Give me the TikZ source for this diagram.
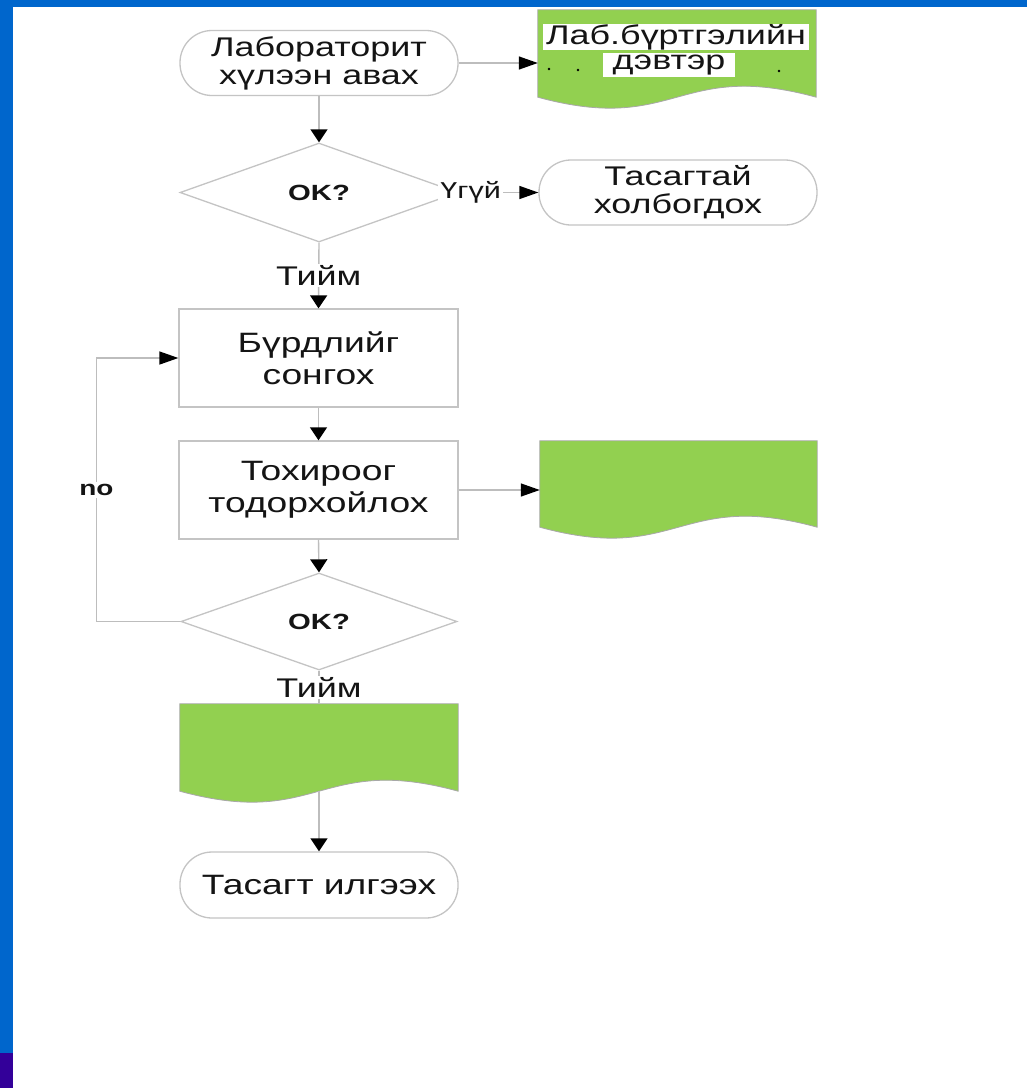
\documentclass[tikz,border=0pt]{standalone}
\usepackage{fontspec}
\setmainfont[FakeStretch=1.33]{Liberation Sans}
\usetikzlibrary{arrows.meta,shapes.geometric,calc}
\definecolor{bordblue}{HTML}{0066CC}
\definecolor{bordpurple}{HTML}{330099}
\definecolor{docgreen}{HTML}{92D050}
\definecolor{edgegray}{HTML}{C4C4C4}
\definecolor{linegray}{HTML}{BDBDBD}
\definecolor{docedge}{HTML}{A8A8A8}
\definecolor{txt}{HTML}{141414}

\newcommand\docshape[1]{%
  \filldraw[fill=docgreen, draw=docedge, line width=0.8pt]
    (#1.north west) -- (#1.north east) -- (#1.south east)
    .. controls ($(#1.south)+(0,-38)$) and ($(#1.south)+(0,38)$) .. (#1.south west) -- cycle;}

\begin{document}
\begin{tikzpicture}[x=1pt,y=-1pt,
  every node/.style={text=txt},
  term/.style={draw=edgegray, line width=1.3pt, rectangle, rounded corners=32pt,
    minimum width=278pt, minimum height=65pt, inner sep=0pt, align=center,
    font=\fontsize{27}{28}\selectfont},
  procbox/.style={draw=edgegray, line width=1.3pt, rectangle,
    minimum width=279pt, minimum height=98pt, inner sep=0pt, align=center,
    font=\fontsize{28}{32}\selectfont},
  decis/.style={draw=edgegray, line width=1.3pt, diamond, aspect=2.8,
    minimum width=278pt, minimum height=99pt, inner sep=0pt,
    font=\fontsize{22}{22}\selectfont\bfseries},
  docnode/.style={draw=none, minimum width=278pt, minimum height=87pt, inner sep=0pt},
  conn/.style={draw=linegray, line width=1.4pt},
  varrow/.style={conn, -{Triangle[length=13pt, width=17pt, color=black]}},
  harrow/.style={conn, -{Triangle[length=19pt, width=13pt, color=black]}},
  lbl/.style={fill=white, inner sep=1.5pt, font=\fontsize{27}{27}\selectfont},
  smalllbl/.style={fill=white, inner sep=2pt, font=\fontsize{23}{23}\selectfont},
  nolbl/.style={fill=white, inner sep=2pt, font=\fontsize{21}{21}\selectfont\bfseries},
  doctext/.style={fill=white, inner ysep=0pt, font=\fontsize{27}{27}\selectfont}
]
\useasboundingbox (0,0) rectangle (1027,1088);
\fill[white] (0,0) rectangle (1027,1088);
% borders
\fill[bordblue] (0,0) rectangle (1027,7);
\fill[bordblue] (0,0) rectangle (12.7,1053);
\fill[bordpurple] (0,1053) rectangle (12.7,1088);

% nodes
\node[term] (t1) at (319,63) {Лабораторит\\хүлээн авах};
\node[docnode] (d1) at (677,53.5) {};
\docshape{d1}
\node[doctext, inner xsep=3pt] (d1a) at (676,37) {Лаб.бүртгэлийн};
\node[doctext, inner xsep=10pt, inner ysep=2pt] (d1b) at (669,65) {дэвтэр};
\fill[black] (549,69) circle (1.3) (578,70) circle (1.3) (779,71) circle (1.3);

\node[decis] (k1) at (319,192.5) {OK?};
\node[term] (t2) at (678,192.5) {Тасагтай\\холбогдох};

\node[procbox] (b1) at (318.5,358) {Бүрдлийг\\сонгох};
\node[procbox] (b2) at (318.5,490) {Тохироог\\тодорхойлох};
\node[docnode, minimum width=277pt, minimum height=86pt] (d2) at (678.5,484) {};
\docshape{d2}

\node[decis, minimum width=276pt, minimum height=97pt] (k2) at (319,621.5) {OK?};
\node[docnode] (d3) at (319,747.5) {};
\docshape{d3}
\node[term, minimum height=66pt, font=\fontsize{28}{28}\selectfont] (t3) at (319,885) {Тасагт илгээх};

% connectors
\draw[harrow] (t1.east) -- (t1.east -| d1.west);
\draw[varrow] (t1.south) -- (k1.north);
\draw[harrow] (k1.east) -- node[pos=0.15, smalllbl] {Үгүй} (t2.west);
\draw[varrow] (k1.south) -- node[midway, lbl] {Тийм} (b1.north);
\draw[varrow] (b1.south) -- (b2.north);
\draw[harrow] (b2.east) -- (b2.east -| d2.west);
\draw[varrow] (b2.south) -- (k2.north);
\draw[harrow] (k2.west) -- ++(-84,0) coordinate (lc)
   -- node[midway, nolbl] {no} (lc |- b1.west) -- (b1.west);
\draw[conn] (k2.south) -- node[midway, lbl] {Тийм} (d3.north);
\draw[varrow] (d3.south) -- (t3.north);
\end{tikzpicture}
\end{document}
